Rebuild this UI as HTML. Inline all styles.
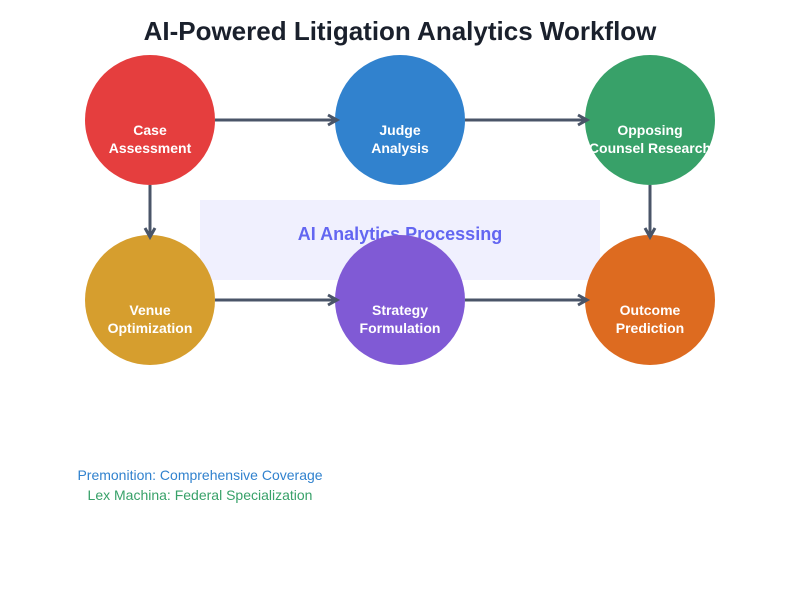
<!DOCTYPE html>
<html><head><meta charset="utf-8"><style>body{margin:0;background:#fff}svg{display:block}</style></head><body>
<svg width="800" height="600" viewBox="0 0 800 600" xmlns="http://www.w3.org/2000/svg" font-family="Liberation Sans, sans-serif">
<rect width="800" height="600" fill="#fff"/>
<text x="400" y="40" text-anchor="middle" font-size="26" font-weight="bold" fill="#1a202c">AI-Powered Litigation Analytics Workflow</text>
<rect x="200" y="200" width="400" height="80" fill="#f0f0fe"/>
<text x="400" y="240" text-anchor="middle" font-size="18" font-weight="bold" fill="#6366f1">AI Analytics Processing</text>
<circle cx="150" cy="120" r="65" fill="#e53e3e"/>
<circle cx="400" cy="120" r="65" fill="#3182ce"/>
<circle cx="650" cy="120" r="65" fill="#38a169"/>
<circle cx="150" cy="300" r="65" fill="#d69e2e"/>
<circle cx="400" cy="300" r="65" fill="#805ad5"/>
<circle cx="650" cy="300" r="65" fill="#dd6b20"/>
<g stroke="#4a5568" stroke-width="3" fill="none">
<line x1="215" y1="120" x2="337" y2="120"/><polyline points="328,115 337,120 328,125"/>
<line x1="465" y1="120" x2="587" y2="120"/><polyline points="578,115 587,120 578,125"/>
<line x1="215" y1="300" x2="337" y2="300"/><polyline points="328,295 337,300 328,305"/>
<line x1="465" y1="300" x2="587" y2="300"/><polyline points="578,295 587,300 578,305"/>
<line x1="150" y1="185" x2="150" y2="237"/><polyline points="145,228 150,237 155,228"/>
<line x1="650" y1="185" x2="650" y2="237"/><polyline points="645,228 650,237 655,228"/>
</g>
<g fill="#fff" font-size="14" font-weight="bold" text-anchor="middle">
<text x="150" y="135">Case</text><text x="150" y="153">Assessment</text>
<text x="400" y="135">Judge</text><text x="400" y="153">Analysis</text>
<text x="650" y="135">Opposing</text><text x="650" y="153">Counsel Research</text>
<text x="150" y="315">Venue</text><text x="150" y="333">Optimization</text>
<text x="400" y="315">Strategy</text><text x="400" y="333">Formulation</text>
<text x="650" y="315">Outcome</text><text x="650" y="333">Prediction</text>
</g>
<text x="200" y="480" text-anchor="middle" font-size="14" fill="#3182ce">Premonition: Comprehensive Coverage</text>
<text x="200" y="500" text-anchor="middle" font-size="14" fill="#38a169">Lex Machina: Federal Specialization</text>
</svg>
</body></html>
